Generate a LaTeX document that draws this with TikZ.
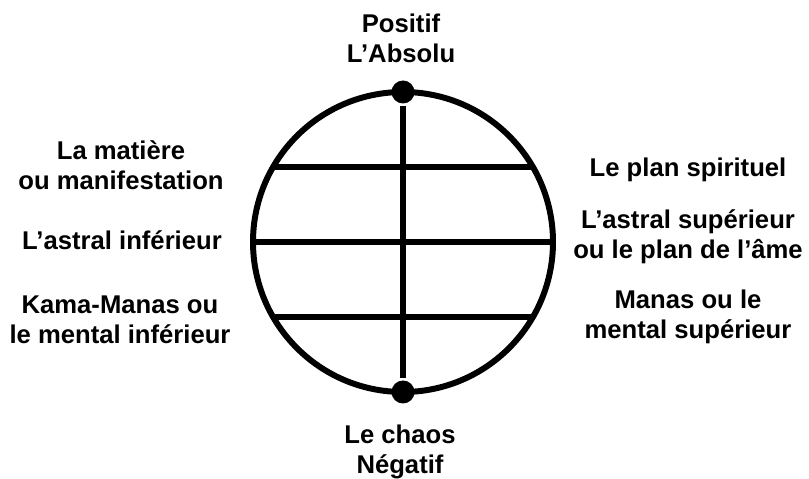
\documentclass[tikz,border=0pt]{standalone}
\usepackage{fontspec}
\setmainfont{Liberation Sans}
\usetikzlibrary{positioning}
\begin{document}
\begin{tikzpicture}[x=0.02cm,y=-0.02cm,line width=3.4pt,
    lbl/.style={font=\bfseries\fontsize{14.6}{17}\selectfont,align=center},
    pole/.style={circle,fill,inner sep=0pt,minimum size=0.46cm}]
    \useasboundingbox (0,0) rectangle (809,479);
    \coordinate (c) at (403,242);
    \draw (c) circle (150);
    \node[pole] (top) at (403,92) {};
    \node[pole] (bot) at (403,392) {};
    \draw (top) -- (bot);
    \foreach \i/\a/\b in {1/150/30,2/180/0,3/210/-30} {
        \coordinate (w\i) at ([shift={(c)}]\a:150);
        \coordinate (e\i) at ([shift={(c)}]\b:150);
        \draw (w\i) -- (e\i);
    }
    \node[lbl] (positif) at (401,38) {Positif\\L'Absolu};
    \node[lbl] (matiere) at (121,165) {La matière\\ou manifestation};
    \node[lbl] (astinf) at (122,240) {L'astral inférieur};
    \node[lbl] (kama) at (120,320) {Kama-Manas ou\\le mental inférieur};
    \node[lbl] (spirit) at (688,170) {Le plan spirituel};
    \node[lbl] (astsup) at (688,237) {L'astral supérieur\\ou le plan de l'âme};
    \node[lbl] (manas) at (688,317) {Manas ou le\\mental supérieur};
    \node[lbl] (chaos) at (400,452) {Le chaos\\Négatif};
\end{tikzpicture}
\end{document}
